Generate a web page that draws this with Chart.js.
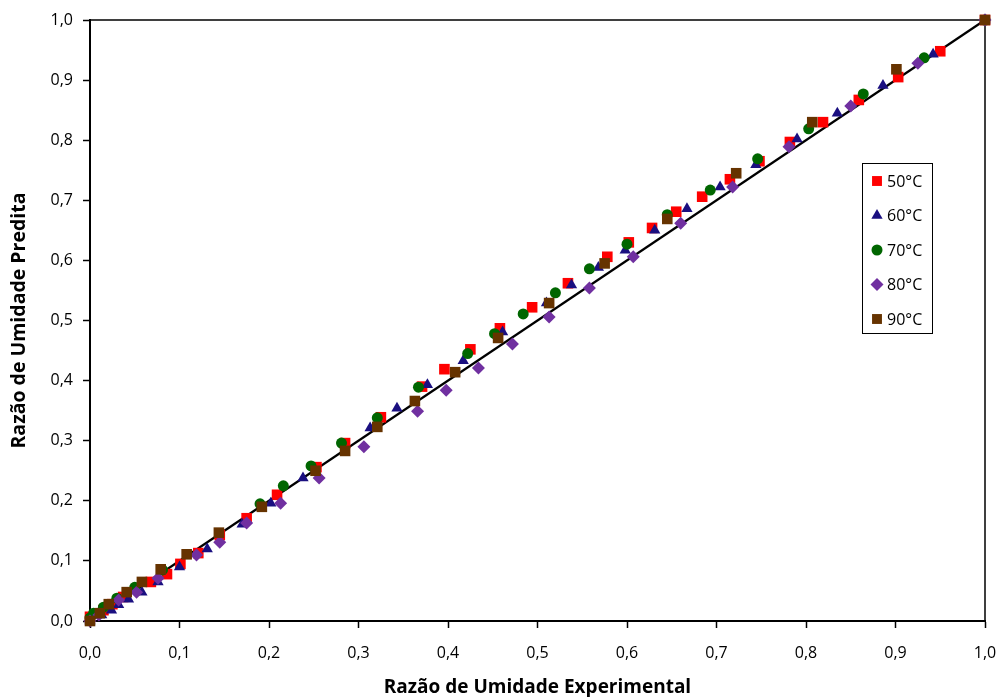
<!DOCTYPE html>
<html>
<head>
<meta charset="utf-8">
<script src="https://cdn.jsdelivr.net/npm/chart.js@4/dist/chart.umd.min.js"></script>
<style>
  body { margin: 0; background: #fff; }
  #wrap { width: 997px; height: 697px; }
</style>
</head>
<body>
<div id="wrap"><canvas id="myChart"></canvas></div>
<script>
// tick labels (0,0 ... 1,0)
var tickLabels = ['0,0', '0,1', '0,2', '0,3', '0,4', '0,5', '0,6', '0,7', '0,8', '0,9', '1,0'];
var seriesNames = ['50°C', '60°C', '70°C', '80°C', '90°C'];

// experimental (x) and predicted (y) moisture ratio per temperature
var exp50 = [0.000, 0.015, 0.025, 0.037, 0.068, 0.086, 0.101, 0.121, 0.145, 0.175, 0.209, 0.253, 0.285, 0.325, 0.371, 0.396, 0.425, 0.458, 0.494, 0.534, 0.578, 0.602, 0.628, 0.655, 0.684, 0.715, 0.748, 0.782, 0.819, 0.859, 0.903, 0.950, 1.000];
var pred50 = [0.007, 0.018, 0.028, 0.040, 0.065, 0.078, 0.095, 0.113, 0.143, 0.171, 0.210, 0.256, 0.296, 0.339, 0.390, 0.419, 0.452, 0.487, 0.522, 0.562, 0.606, 0.630, 0.654, 0.681, 0.706, 0.735, 0.765, 0.797, 0.830, 0.867, 0.905, 0.948, 1.000];

var exp60 = [0.000, 0.013, 0.024, 0.032, 0.043, 0.058, 0.076, 0.100, 0.131, 0.170, 0.202, 0.238, 0.313, 0.343, 0.377, 0.417, 0.461, 0.510, 0.538, 0.568, 0.598, 0.631, 0.667, 0.704, 0.744, 0.790, 0.835, 0.886, 0.942, 1.000];
var pred60 = [0.000, 0.010, 0.018, 0.027, 0.036, 0.048, 0.065, 0.090, 0.120, 0.161, 0.196, 0.238, 0.321, 0.354, 0.393, 0.433, 0.481, 0.529, 0.559, 0.588, 0.617, 0.650, 0.686, 0.722, 0.759, 0.802, 0.845, 0.891, 0.943, 1.000];

var exp70 = [0.000, 0.004, 0.015, 0.030, 0.050, 0.081, 0.190, 0.216, 0.247, 0.281, 0.321, 0.367, 0.422, 0.452, 0.484, 0.520, 0.558, 0.600, 0.645, 0.693, 0.746, 0.803, 0.864, 0.932, 1.000];
var pred70 = [0.005, 0.013, 0.023, 0.038, 0.056, 0.085, 0.195, 0.225, 0.258, 0.296, 0.338, 0.389, 0.445, 0.478, 0.511, 0.546, 0.586, 0.627, 0.676, 0.717, 0.769, 0.819, 0.877, 0.937, 1.000];

var exp80 = [0.000, 0.010, 0.032, 0.052, 0.076, 0.119, 0.145, 0.175, 0.213, 0.256, 0.306, 0.366, 0.398, 0.434, 0.472, 0.513, 0.558, 0.607, 0.660, 0.718, 0.781, 0.850, 0.925, 1.000];
var pred80 = [0.000, 0.010, 0.035, 0.048, 0.071, 0.110, 0.131, 0.163, 0.196, 0.238, 0.290, 0.349, 0.384, 0.421, 0.461, 0.506, 0.554, 0.606, 0.662, 0.722, 0.789, 0.857, 0.928, 1.000];

var exp90 = [0.000, 0.011, 0.021, 0.041, 0.058, 0.079, 0.108, 0.144, 0.192, 0.252, 0.285, 0.321, 0.363, 0.408, 0.456, 0.513, 0.575, 0.645, 0.722, 0.807, 0.901, 1.000];
var pred90 = [0.000, 0.013, 0.028, 0.048, 0.065, 0.086, 0.111, 0.147, 0.190, 0.250, 0.283, 0.323, 0.366, 0.414, 0.471, 0.529, 0.595, 0.669, 0.745, 0.830, 0.918, 1.000];

// y = x reference line
var lineX = [0, 1];
var lineY = [0, 1];

function pairs(xs, ys) {
    var out = [];
    for (var i = 0; i < xs.length; i++) out.push({x: xs[i], y: ys[i]});
    return out;
}

var fontFamily = '"Open Sans", sans-serif';

function drawMarker(ctx, style, r, x, y) {
    ctx.beginPath();
    if (style === 'rect') {
        var s = Math.SQRT1_2 * r;
        ctx.rect(x - s, y - s, 2 * s, 2 * s);
    } else if (style === 'triangle') {
        ctx.moveTo(x, y - r);
        ctx.lineTo(x + r * 0.866, y + r * 0.5);
        ctx.lineTo(x - r * 0.866, y + r * 0.5);
        ctx.closePath();
    } else if (style === 'circle') {
        ctx.arc(x, y, r, 0, Math.PI * 2);
    } else if (style === 'rectRot') {
        ctx.moveTo(x, y - r);
        ctx.lineTo(x + r, y);
        ctx.lineTo(x, y + r);
        ctx.lineTo(x - r, y);
        ctx.closePath();
    }
    ctx.fill();
}

var frameAndLegend = {
    id: 'frameAndLegend',
    beforeDatasetsDraw: function(chart) {
        var a = chart.chartArea, ctx = chart.ctx;
        ctx.save();
        ctx.strokeStyle = '#000';
        ctx.lineWidth = 1.5;
        ctx.beginPath();
        ctx.moveTo(a.left, a.top);
        ctx.lineTo(a.right, a.top);
        ctx.lineTo(a.right, a.bottom);
        ctx.stroke();
        ctx.restore();
    },
    afterDatasetsDraw: function(chart) {
        var ctx = chart.ctx;
        var bx = 862, by = 163, bw = 70, bh = 170;
        ctx.save();
        ctx.fillStyle = '#fff';
        ctx.fillRect(bx, by, bw, bh);
        ctx.strokeStyle = '#000';
        ctx.lineWidth = 1;
        ctx.strokeRect(bx + 0.5, by + 0.5, bw, bh);
        ctx.font = '16px ' + fontFamily;
        ctx.textBaseline = 'middle';
        for (var i = 0; i < seriesNames.length; i++) {
            var ds = chart.data.datasets[i + 1];
            var y = by + 18 + i * 34.5;
            ctx.fillStyle = ds.backgroundColor;
            drawMarker(ctx, ds.pointStyle, ds.legendRadius, bx + 15, y);
            ctx.fillStyle = '#000';
            ctx.fillText(seriesNames[i], bx + 25, y + 1);
        }
        ctx.restore();
    }
};

var ctx = document.getElementById('myChart').getContext('2d');
var myChart = new Chart(ctx, {
    type: 'scatter',
    data: {
        datasets: [
            {
                type: 'line',
                label: 'y = x',
                data: pairs(lineX, lineY),
                borderColor: '#000',
                borderWidth: 2.2,
                pointRadius: 0,
                fill: false,
                order: 10
            },
            {
                label: seriesNames[0],
                data: pairs(exp50, pred50),
                backgroundColor: '#FF0000',
                pointStyle: 'rect',
                pointRadius: 7.5,
                legendRadius: 7,
                pointBorderWidth: 0,
                order: 5
            },
            {
                label: seriesNames[1],
                data: pairs(exp60, pred60),
                backgroundColor: '#1A0F80',
                pointStyle: 'triangle',
                pointRadius: 6.5,
                legendRadius: 6.5,
                pointBorderWidth: 0,
                order: 4
            },
            {
                label: seriesNames[2],
                data: pairs(exp70, pred70),
                backgroundColor: '#006600',
                pointStyle: 'circle',
                pointRadius: 5.5,
                legendRadius: 5.5,
                pointBorderWidth: 0,
                order: 3
            },
            {
                label: seriesNames[3],
                data: pairs(exp80, pred80),
                backgroundColor: '#7030A0',
                pointStyle: 'rectRot',
                pointRadius: 6.5,
                legendRadius: 6.5,
                pointBorderWidth: 0,
                order: 2
            },
            {
                label: seriesNames[4],
                data: pairs(exp90, pred90),
                backgroundColor: '#663300',
                pointStyle: 'rect',
                pointRadius: 7.5,
                legendRadius: 7,
                pointBorderWidth: 0,
                order: 1
            }
        ]
    },
    options: {
        responsive: true,
        maintainAspectRatio: false,
        animation: false,
        clip: false,
        layout: { padding: { top: 20, right: 0, left: 0, bottom: 0 } },
        plugins: {
            legend: { display: false },
            tooltip: { enabled: false }
        },
        scales: {
            x: {
                type: 'linear',
                min: 0, max: 1,
                afterFit: function(scale) { scale.height = 76; scale.paddingRight = 12; },
                ticks: {
                    stepSize: 0.1,
                    color: '#000',
                    padding: 16,
                    maxRotation: 0,
                    font: { family: fontFamily, size: 16 },
                    callback: function(value, index) { return tickLabels[index]; }
                },
                grid: { drawOnChartArea: false, tickLength: 7, color: '#000', tickWidth: 1.5 },
                border: { display: true, color: '#000', width: 2 },
                title: {
                    display: true,
                    text: 'Razão de Umidade Experimental',
                    color: '#000',
                    padding: { top: 0, bottom: -2 },
                    font: { family: fontFamily, size: 19, weight: 'bold' }
                }
            },
            y: {
                type: 'linear',
                min: 0, max: 1,
                afterFit: function(scale) { scale.width = 90; },
                ticks: {
                    stepSize: 0.1,
                    color: '#000',
                    padding: 10,
                    font: { family: fontFamily, size: 16 },
                    callback: function(value, index) { return tickLabels[index]; }
                },
                grid: { drawOnChartArea: false, tickLength: 7, color: '#000', tickWidth: 1.5 },
                border: { display: true, color: '#000', width: 2 },
                title: {
                    display: true,
                    text: 'Razão de Umidade Predita',
                    color: '#000',
                    padding: { top: 8, bottom: 0 },
                    font: { family: fontFamily, size: 19.5, weight: 'bold' }
                }
            }
        }
    },
    plugins: [frameAndLegend]
});
</script>
</body>
</html>
